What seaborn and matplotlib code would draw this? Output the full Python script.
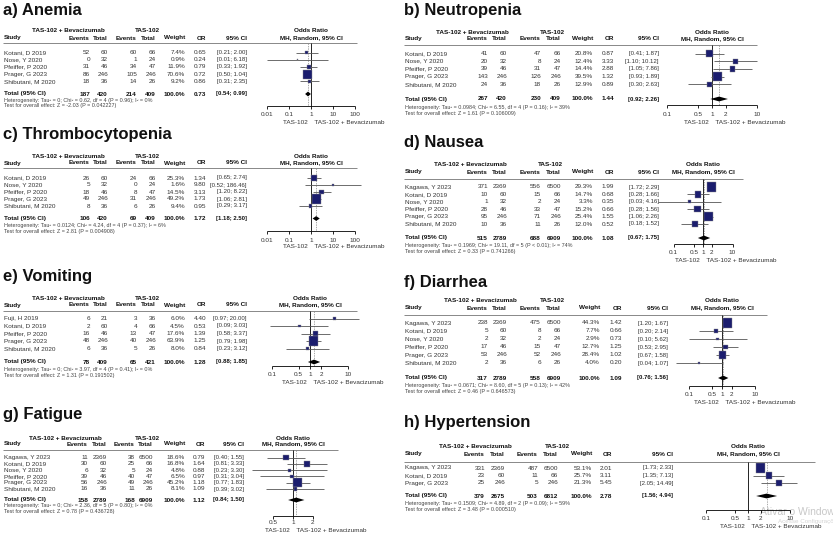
import matplotlib
matplotlib.use("Agg")
import matplotlib.pyplot as plt
import seaborn as sns

sns.set_theme(style="white")
plt.rcParams['font.family'] = ['Liberation Sans', 'DejaVu Sans']

# ---- data ----
anemia_study = ["Kotani, D 2019", "Nose, Y 2020", "Pfeiffer, P 2020", "Prager, G 2023", "Shibutani, M 2020"]
anemia_ev1 = [52, 0, 31, 86, 18]
anemia_n1 = [60, 32, 46, 246, 36]
anemia_ev2 = [60, 1, 34, 105, 14]
anemia_n2 = [66, 24, 47, 246, 26]
anemia_weight = [7.4, 0.9, 11.9, 70.6, 9.2]
anemia_or = [0.65, 0.24, 0.79, 0.72, 0.86]
anemia_lo = [0.21, 0.01, 0.33, 0.50, 0.31]
anemia_hi = [2.00, 6.18, 1.92, 1.04, 2.35]
anemia_total = [187, 420, 214, 409, 0.73, 0.54, 0.99]
anemia_het = "Heterogeneity: Tau² = 0; Chi² = 0.62, df = 4 (P = 0.96); I² = 0%"
anemia_test = "Test for overall effect: Z = -2.03 (P = 0.042227)"
anemia_ticks = [0.01, 0.1, 1, 10, 100]

neutro_study = ["Kotani, D 2019", "Nose, Y 2020", "Pfeiffer, P 2020", "Prager, G 2023", "Shibutani, M 2020"]
neutro_ev1 = [41, 20, 39, 143, 24]
neutro_n1 = [60, 32, 46, 246, 36]
neutro_ev2 = [47, 8, 31, 126, 18]
neutro_n2 = [66, 24, 47, 246, 26]
neutro_weight = [20.8, 12.4, 14.4, 39.5, 12.9]
neutro_or = [0.87, 3.33, 2.88, 1.32, 0.89]
neutro_lo = [0.41, 1.10, 1.05, 0.93, 0.30]
neutro_hi = [1.87, 10.12, 7.86, 1.89, 2.63]
neutro_total = [267, 420, 230, 409, 1.44, 0.92, 2.26]
neutro_het = "Heterogeneity: Tau² = 0.0984; Chi² = 6.55, df = 4 (P = 0.16); I² = 39%"
neutro_test = "Test for overall effect: Z = 1.61 (P = 0.106009)"
neutro_ticks = [0.1, 0.5, 1, 2, 10]

thromb_study = ["Kotani, D 2019", "Nose, Y 2020", "Pfeiffer, P 2020", "Prager, G 2023", "Shibutani, M 2020"]
thromb_ev1 = [26, 5, 18, 49, 8]
thromb_n1 = [60, 32, 46, 246, 36]
thromb_ev2 = [24, 0, 8, 31, 6]
thromb_n2 = [66, 24, 47, 246, 26]
thromb_weight = [25.3, 1.6, 14.5, 49.2, 9.4]
thromb_or = [1.34, 9.80, 3.13, 1.73, 0.95]
thromb_lo = [0.65, 0.52, 1.20, 1.06, 0.29]
thromb_hi = [2.74, 186.46, 8.22, 2.81, 3.17]
thromb_total = [106, 420, 69, 409, 1.72, 1.18, 2.50]
thromb_het = "Heterogeneity: Tau² = 0.0124; Chi² = 4.24, df = 4 (P = 0.37); I² = 6%"
thromb_test = "Test for overall effect: Z = 2.81 (P = 0.004908)"
thromb_ticks = [0.01, 0.1, 1, 10, 100]

nausea_study = ["Kagawa, Y 2023", "Kotani, D 2019", "Nose, Y 2020", "Pfeiffer, P 2020", "Prager, G 2023", "Shibutani, M 2020"]
nausea_ev1 = [371, 10, 1, 28, 95, 10]
nausea_n1 = [2369, 60, 32, 46, 246, 36]
nausea_ev2 = [556, 15, 2, 33, 71, 11]
nausea_n2 = [6500, 66, 24, 47, 246, 26]
nausea_weight = [29.3, 14.7, 3.3, 15.2, 25.4, 12.0]
nausea_or = [1.99, 0.68, 0.35, 0.66, 1.55, 0.52]
nausea_lo = [1.72, 0.28, 0.03, 0.28, 1.06, 0.18]
nausea_hi = [2.29, 1.66, 4.16, 1.56, 2.26, 1.52]
nausea_total = [515, 2789, 688, 6909, 1.08, 0.67, 1.75]
nausea_het = "Heterogeneity: Tau² = 0.1969; Chi² = 19.11, df = 5 (P < 0.01); I² = 74%"
nausea_test = "Test for overall effect: Z = 0.33 (P = 0.741266)"
nausea_ticks = [0.1, 0.5, 1, 2, 10]

vomit_study = ["Fuji, H 2019", "Kotani, D 2019", "Pfeiffer, P 2020", "Prager, G 2023", "Shibutani, M 2020"]
vomit_ev1 = [6, 2, 16, 48, 6]
vomit_n1 = [21, 60, 46, 246, 36]
vomit_ev2 = [3, 4, 13, 40, 5]
vomit_n2 = [36, 66, 47, 246, 26]
vomit_weight = [6.0, 4.5, 17.6, 63.9, 8.0]
vomit_or = [4.40, 0.53, 1.39, 1.25, 0.84]
vomit_lo = [0.97, 0.09, 0.58, 0.79, 0.23]
vomit_hi = [20.00, 3.03, 3.37, 1.98, 3.12]
vomit_total = [78, 409, 65, 421, 1.28, 0.88, 1.85]
vomit_het = "Heterogeneity: Tau² = 0; Chi² = 3.97, df = 4 (P = 0.41); I² = 0%"
vomit_test = "Test for overall effect: Z = 1.31 (P = 0.191502)"
vomit_ticks = [0.1, 0.5, 1, 2, 10]

diarr_study = ["Kagawa, Y 2023", "Kotani, D 2019", "Nose, Y 2020", "Pfeiffer, P 2020", "Prager, G 2023", "Shibutani, M 2020"]
diarr_ev1 = [238, 5, 2, 17, 53, 2]
diarr_n1 = [2369, 60, 32, 46, 246, 36]
diarr_ev2 = [475, 8, 2, 15, 52, 6]
diarr_n2 = [6500, 66, 24, 47, 246, 26]
diarr_weight = [44.3, 7.7, 2.9, 12.7, 28.4, 4.0]
diarr_or = [1.42, 0.66, 0.73, 1.25, 1.02, 0.20]
diarr_lo = [1.20, 0.20, 0.10, 0.53, 0.67, 0.04]
diarr_hi = [1.67, 2.14, 5.62, 2.95, 1.58, 1.07]
diarr_total = [317, 2789, 558, 6909, 1.09, 0.76, 1.56]
diarr_het = "Heterogeneity: Tau² = 0.0671; Chi² = 8.60, df = 5 (P = 0.13); I² = 42%"
diarr_test = "Test for overall effect: Z = 0.46 (P = 0.646573)"
diarr_ticks = [0.1, 0.5, 1, 2, 10]

fatig_study = ["Kagawa, Y 2023", "Kotani, D 2019", "Nose, Y 2020", "Pfeiffer, P 2020", "Prager, G 2023", "Shibutani, M 2020"]
fatig_ev1 = [11, 30, 6, 39, 56, 16]
fatig_n1 = [2369, 60, 32, 46, 246, 36]
fatig_ev2 = [38, 25, 5, 40, 49, 11]
fatig_n2 = [6500, 66, 24, 47, 246, 26]
fatig_weight = [18.6, 16.8, 4.8, 6.5, 45.2, 8.1]
fatig_or = [0.79, 1.64, 0.88, 0.97, 1.18, 1.09]
fatig_lo = [0.40, 0.81, 0.23, 0.31, 0.77, 0.39]
fatig_hi = [1.55, 3.33, 3.30, 3.04, 1.83, 3.02]
fatig_total = [158, 2789, 168, 6909, 1.12, 0.84, 1.50]
fatig_het = "Heterogeneity: Tau² = 0; Chi² = 2.36, df = 5 (P = 0.80); I² = 0%"
fatig_test = "Test for overall effect: Z = 0.78 (P = 0.436728)"
fatig_ticks = [0.5, 1, 2]

hyper_study = ["Kagawa, Y 2023", "Kotani, D 2019", "Prager, G 2023"]
hyper_ev1 = [331, 23, 25]
hyper_n1 = [2369, 60, 246]
hyper_ev2 = [487, 11, 5]
hyper_n2 = [6500, 66, 246]
hyper_weight = [53.1, 25.7, 21.3]
hyper_or = [2.01, 3.11, 5.45]
hyper_lo = [1.73, 1.35, 2.05]
hyper_hi = [2.33, 7.13, 14.49]
hyper_total = [379, 2675, 503, 6812, 2.78, 1.56, 4.94]
hyper_het = "Heterogeneity: Tau² = 0.1509; Chi² = 4.89, df = 2 (P = 0.09); I² = 59%"
hyper_test = "Test for overall effect: Z = 3.48 (P = 0.000510)"
hyper_ticks = [0.1, 0.5, 1, 2, 10]

# ---- layout (pixel positions) ----
LEFT_COLS = dict(ev1=90, n1=108, ev2=137, n2=156, w=185, orc=206, ci=247, g1=68, g2=147)
RIGHT_COLS = dict(ev1=488, n1=507, ev2=541, n2=561, w=593, orc=614, ci=659, g1=472, g2=552)

W, H = 833, 540
FS = 4.6
FS_CI = 4.3
FS_SMALL = 3.9
SQ = "#1b1d6e"


def fmt_tick(t):
    return ("%g" % t)


def draw_panel(fig, ov, title, study, ev1, n1, ev2, n2, weight, orr, lo, hi, total,
               het, test, ticks, lay):
    c = lay["cols"]
    x0 = lay["x0"]
    ov.text(x0 - 1, lay["title_y"], title, fontsize=12, fontweight="bold", va="center", color="#111")

    h1, h2 = lay["h1"], lay["h2"]
    bold = dict(fontsize=FS, fontweight="bold", va="center", color="#111")
    ov.text(c["g1"], h1, "TAS-102 + Bevacizumab", ha="center", **bold)
    ov.text(c["g2"], h1, "TAS-102", ha="center", **bold)
    ov.text(x0, h2, "Study", ha="left", **bold)
    for key, lab in [("ev1", "Events"), ("n1", "Total"), ("ev2", "Events"), ("n2", "Total"),
                     ("w", "Weight"), ("orc", "OR"), ("ci", "95% CI")]:
        ov.text(c[key], h2, lab, ha="right", **bold)
    ov.text(lay["one"], h1, "Odds Ratio", ha="center", **bold)
    ov.text(lay["one"], h2, "MH, Random, 95% CI", ha="center", **bold)
    ov.hlines(lay["line_y"], x0 - 1, lay["line_x1"], color="#888", lw=0.7)

    rows = [lay["row0"] + i * lay["dy"] for i in range(len(study))]
    norm = dict(fontsize=FS, va="center", color="#333")
    cols = ["ev1", "n1", "ev2", "n2", "w", "orc"]
    for i, y in enumerate(rows):
        ov.text(x0, y, study[i], ha="left", **norm)
        vals = [str(ev1[i]), str(n1[i]), str(ev2[i]), str(n2[i]),
                "%.1f%%" % weight[i], "%.2f" % orr[i]]
        for key, v in zip(cols, vals):
            ov.text(c[key], y, v, ha="right", **norm)
        ov.text(c["ci"], y, "[%.2f; %.2f]" % (lo[i], hi[i]), ha="right", va="center",
                fontsize=FS_CI, color="#333")

    ty = lay["tot_y"]
    te1, tn1, te2, tn2, tor, tlo, thi = total
    ov.text(x0, ty, "Total (95% CI)", ha="left", **bold)
    tvals = [str(te1), str(tn1), str(te2), str(tn2), "100.0%", "%.2f" % tor]
    for key, v in zip(cols, tvals):
        ov.text(c[key], ty, v, ha="right", **bold)
    ov.text(c["ci"], ty, "[%.2f; %.2f]" % (tlo, thi), ha="right", va="center",
            fontsize=FS_CI, fontweight="bold", color="#111")
    ov.text(x0, lay["het_y"], het, fontsize=FS_SMALL, va="center", color="#444")
    ov.text(x0, lay["test_y"], test, fontsize=FS_SMALL, va="center", color="#444")

    # forest part: y in pixels, x on log odds-ratio scale
    one, dec = lay["one"], lay["dec"]
    fa = fig.add_axes([(one - 3 * dec) / W, 0, 6 * dec / W, 1])
    fa.set_xscale("log")
    fa.patch.set_alpha(0)

    ay = lay["axis_y"]
    fa.vlines(1, lay["line_y"], ay, color="black", lw=0.6)
    fa.vlines(tor, lay["line_y"], ay, color="#888", lw=0.5, linestyles=(0, (2, 1.5)))
    fa.hlines(rows, lo, hi, color="#555", lw=0.6, zorder=2)
    sns.scatterplot(x=orr, y=rows, size=weight, sizes=(0, 42), size_norm=(0, max(weight)),
                    marker="s", color=SQ, edgecolor="#8a8a8a", linewidth=0.3, legend=False,
                    ax=fa, zorder=3)
    fa.fill([tlo, tor, thi, tor], [ty, ty - 2.4, ty, ty + 2.4], color="black", lw=0, zorder=3)
    fa.axis("off")
    fa.set_xlim(1e-3, 1e3)
    fa.set_ylim(H, 0)

    fa.hlines(ay, ticks[0], ticks[-1], color="black", lw=0.6)
    fa.vlines(ticks, ay, ay + 3, color="black", lw=0.6)
    for t in ticks:
        fa.text(t, lay["tick_y"], fmt_tick(t), ha="center", va="center", fontsize=FS, color="#333")
    fa.text(1, lay["lab_y"], "TAS-102  ", ha="right", va="center", fontsize=FS, color="#333")
    fa.text(1, lay["lab_y"], "  TAS-102 + Bevacizumab", ha="left", va="center", fontsize=FS, color="#333")


fig = plt.figure(figsize=(W / 100, H / 100), dpi=100)
ov = fig.add_axes([0, 0, 1, 1])
ov.set_xlim(0, W)
ov.set_ylim(H, 0)
ov.axis("off")

lay_a = dict(cols=LEFT_COLS, x0=4, title_y=10, h1=31, h2=38, line_y=43, line_x1=357,
             row0=52.5, dy=7.2, tot_y=94, het_y=100.5, test_y=106,
             one=311, dec=22, axis_y=106, tick_y=115, lab_y=122)
lay_b = dict(cols=RIGHT_COLS, x0=405, title_y=10, h1=32, h2=38.5, line_y=45, line_x1=757,
             row0=53.5, dy=7.7, tot_y=99, het_y=107, test_y=113,
             one=712, dec=45, axis_y=105, tick_y=114, lab_y=122)
lay_c = dict(cols=LEFT_COLS, x0=4, title_y=135, h1=157, h2=163, line_y=168, line_x1=357,
             row0=178, dy=7.0, tot_y=218.5, het_y=225, test_y=231,
             one=311, dec=22, axis_y=231, tick_y=240, lab_y=247)
lay_d = dict(cols=dict(RIGHT_COLS, g1=470, g2=550), x0=405, title_y=143, h1=165, h2=172,
             line_y=179, line_x1=743, row0=187, dy=7.4, tot_y=238, het_y=245, test_y=251,
             one=703, dec=29.5, axis_y=244, tick_y=253, lab_y=260)
lay_e = dict(cols=LEFT_COLS, x0=4, title_y=277, h1=298, h2=305, line_y=311, line_x1=357,
             row0=318.5, dy=7.5, tot_y=362, het_y=369, test_y=375,
             one=310, dec=38, axis_y=366, tick_y=374, lab_y=382)
lay_f = dict(cols=dict(RIGHT_COLS, w=600, orc=622, ci=668, g1=480), x0=405, title_y=283,
             h1=300, h2=308, line_y=315, line_x1=767, row0=323, dy=8, tot_y=378, het_y=386,
             test_y=392, one=722, dec=33, axis_y=386, tick_y=395, lab_y=402)
lay_g = dict(cols=dict(LEFT_COLS, ev1=88, n1=107, ev2=135, n2=153, orc=205, ci=244, g1=65),
             x0=4, title_y=415, h1=438, h2=444, line_y=450, line_x1=338,
             row0=457.5, dy=6.3, tot_y=500, het_y=506, test_y=512,
             one=293, dec=65, axis_y=516, tick_y=523, lab_y=530)
lay_h = dict(cols=dict(RIGHT_COLS, ev1=485, n1=505, ev2=538, n2=558, w=592, orc=612, ci=673,
                       g1=475, g2=557),
             x0=405, title_y=423, h1=447, h2=454, line_y=462, line_x1=815,
             row0=468, dy=7.5, tot_y=496, het_y=503, test_y=510,
             one=748, dec=42, axis_y=510, tick_y=518, lab_y=526)

draw_panel(fig, ov, "a) Anemia", anemia_study, anemia_ev1, anemia_n1, anemia_ev2, anemia_n2,
           anemia_weight, anemia_or, anemia_lo, anemia_hi, anemia_total, anemia_het, anemia_test,
           anemia_ticks, lay_a)
draw_panel(fig, ov, "b) Neutropenia", neutro_study, neutro_ev1, neutro_n1, neutro_ev2, neutro_n2,
           neutro_weight, neutro_or, neutro_lo, neutro_hi, neutro_total, neutro_het, neutro_test,
           neutro_ticks, lay_b)
draw_panel(fig, ov, "c) Thrombocytopenia", thromb_study, thromb_ev1, thromb_n1, thromb_ev2, thromb_n2,
           thromb_weight, thromb_or, thromb_lo, thromb_hi, thromb_total, thromb_het, thromb_test,
           thromb_ticks, lay_c)
draw_panel(fig, ov, "d) Nausea", nausea_study, nausea_ev1, nausea_n1, nausea_ev2, nausea_n2,
           nausea_weight, nausea_or, nausea_lo, nausea_hi, nausea_total, nausea_het, nausea_test,
           nausea_ticks, lay_d)
draw_panel(fig, ov, "e) Vomiting", vomit_study, vomit_ev1, vomit_n1, vomit_ev2, vomit_n2,
           vomit_weight, vomit_or, vomit_lo, vomit_hi, vomit_total, vomit_het, vomit_test,
           vomit_ticks, lay_e)
draw_panel(fig, ov, "f) Diarrhea", diarr_study, diarr_ev1, diarr_n1, diarr_ev2, diarr_n2,
           diarr_weight, diarr_or, diarr_lo, diarr_hi, diarr_total, diarr_het, diarr_test,
           diarr_ticks, lay_f)
draw_panel(fig, ov, "g) Fatigue", fatig_study, fatig_ev1, fatig_n1, fatig_ev2, fatig_n2,
           fatig_weight, fatig_or, fatig_lo, fatig_hi, fatig_total, fatig_het, fatig_test,
           fatig_ticks, lay_g)
draw_panel(fig, ov, "h) Hypertension", hyper_study, hyper_ev1, hyper_n1, hyper_ev2, hyper_n2,
           hyper_weight, hyper_or, hyper_lo, hyper_hi, hyper_total, hyper_het, hyper_test,
           hyper_ticks, lay_h)

# faint OS watermark seen in the screenshot (cut at the right edge there too)
ov.text(760, 512, "Ativar o Windows", fontsize=7.5, color="#c8c8c8", va="center", zorder=0)
ov.text(778, 522, "Acesse Configurações", fontsize=4.5, color="#d4d4d4", va="center", zorder=0)

fig.savefig("out.png", dpi=100)
